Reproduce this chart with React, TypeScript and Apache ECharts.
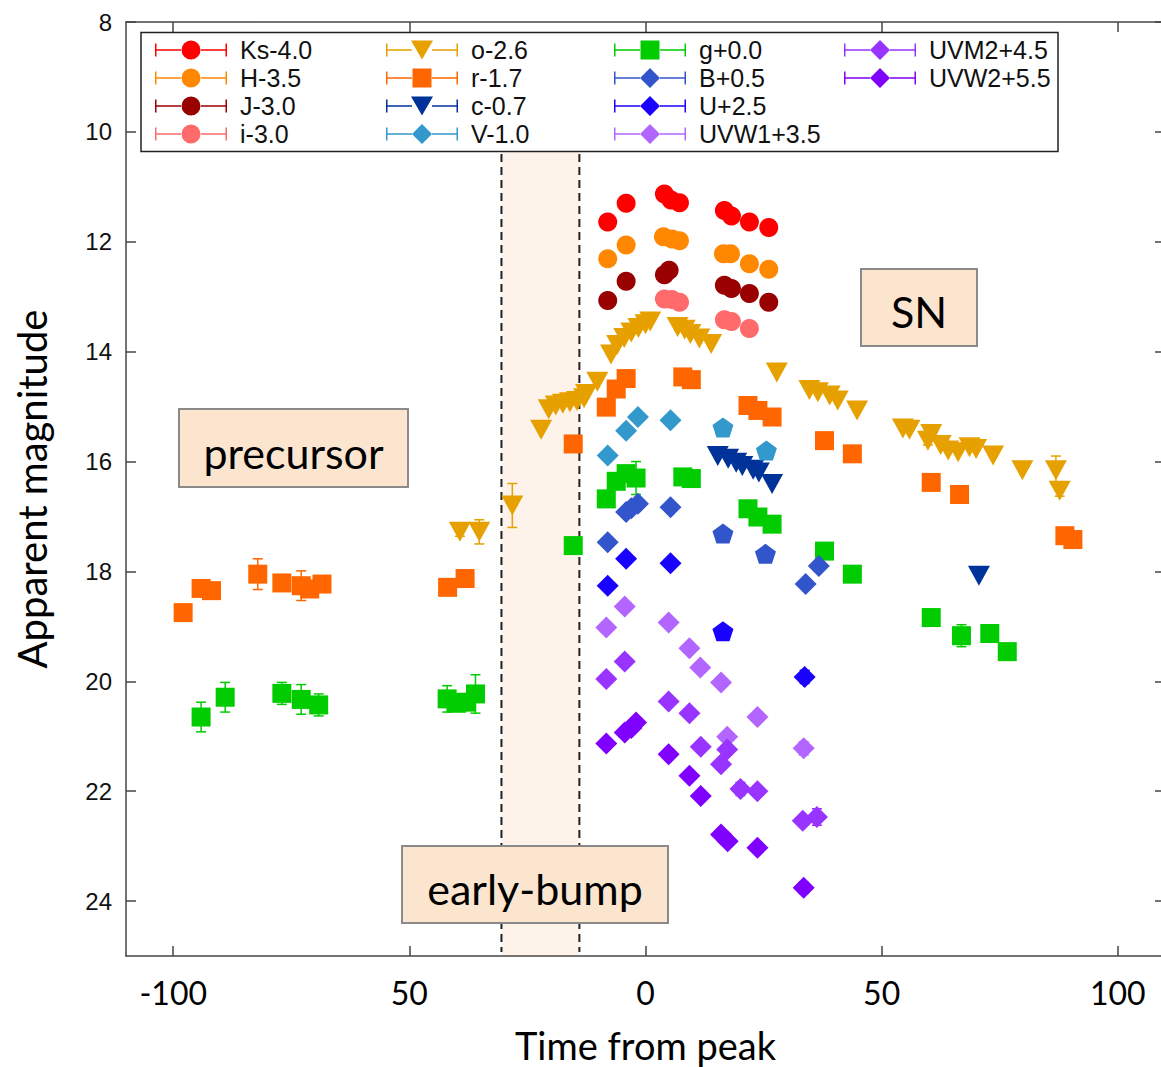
import React, { useEffect, useRef } from "react";
import * as echarts from "echarts";

// ---- axis ticks ----
const xTickValues = [-100, -50, 0, 50, 100];
const xTickLabels = ["-100", "50", "0", "50", "100"];
const yTickValues = [8, 10, 12, 14, 16, 18, 20, 22, 24];

// ---- early-bump window [start, end] (days from peak), magnitude span ----
const earlyBump = [-30.5, -14.0];
const earlyBumpMag = [10.35, 25];

// ---- photometry: [time from peak, apparent magnitude, error] ----
const ks = [[-8, 11.64], [-4.1, 11.3], [4, 11.13], [5.4, 11.24], [7.2, 11.29], [16.7, 11.43], [18.2, 11.53], [22, 11.64], [26.1, 11.74]];
const hBand = [[-8, 12.31], [-4.1, 12.06], [3.8, 11.91], [5.6, 11.95], [7.2, 11.98], [16.5, 12.22], [18, 12.22], [22, 12.4], [26.1, 12.5]];
const jBand = [[-8, 13.07], [-4.1, 12.72], [4, 12.6], [5, 12.52], [16.7, 12.79], [18.2, 12.85], [22, 12.94], [26.1, 13.1]];
const iBand = [[4, 13.04], [5.6, 13.05], [7.2, 13.1], [16.7, 13.42], [18.2, 13.45], [22, 13.58]];
const oBand = [[-39.3, 17.28, 0.08], [-35.2, 17.28, 0.22], [-28.2, 16.8, 0.4], [-22.1, 15.42], [-20.5, 15.05], [-19, 14.98], [-17.5, 14.95], [-16, 14.92], [-14.5, 14.9], [-13, 14.85], [-12.6, 14.77], [-10.2, 14.55], [-7.3, 14.05], [-6, 13.88], [-4.5, 13.75], [-3, 13.65], [-1.5, 13.57], [0, 13.5], [1, 13.45], [6.8, 13.55], [8.3, 13.6], [9.5, 13.68], [11.4, 13.76], [13.9, 13.86], [27.8, 14.38], [34.7, 14.7], [36.5, 14.74], [39, 14.8], [40.7, 14.89], [44.8, 15.07], [54.5, 15.4], [55.9, 15.42], [59.8, 15.62, 0.08], [60.5, 15.5], [62.5, 15.7], [64.1, 15.8], [66.2, 15.83], [68.6, 15.74], [70, 15.77], [73.6, 15.89], [79.8, 16.16], [86.9, 16.16, 0.26], [87.7, 16.53, 0.1]];
const rBand = [[-97.9, 18.75], [-94.1, 18.31], [-91.9, 18.35], [-82.1, 18.05, 0.28], [-77, 18.21], [-72.9, 18.26, 0.27], [-71.1, 18.32], [-68.5, 18.23], [-41.9, 18.29], [-38.2, 18.13], [-15.3, 15.68], [-8.3, 15.01], [-6.2, 14.68], [-4.1, 14.49], [7.9, 14.46], [9.7, 14.51], [21.7, 14.98], [23.8, 15.07], [26.8, 15.19], [37.9, 15.62], [43.8, 15.86], [60.5, 16.38], [66.5, 16.6], [88.8, 17.35], [90.5, 17.42]];
const cBand = [[15.3, 15.9], [17.5, 15.95], [19.2, 16.02], [20.5, 16.08], [22.8, 16.15], [24, 16.2], [26.8, 16.41], [70.6, 18.08]];
const vBand = [[-8, 15.89], [-4.1, 15.44], [-1.6, 15.19], [5.3, 15.25]];
const vBandUvot = [[16.4, 15.38], [25.6, 15.8]];
const gBand = [[-94.1, 20.65, 0.27], [-89, 20.29, 0.27], [-77, 20.22, 0.2], [-72.9, 20.33, 0.27], [-69.2, 20.43, 0.2], [-42, 20.32, 0.24], [-40, 20.4], [-38, 20.38], [-36, 20.23, 0.35], [-15.3, 17.53], [-8.3, 16.68], [-6.2, 16.36], [-4.1, 16.22], [-2, 16.3, 0.3], [7.9, 16.28], [9.7, 16.31], [21.7, 16.86], [23.8, 17.01], [26.8, 17.14], [37.9, 17.63], [43.8, 18.05], [60.5, 18.84], [66.9, 19.17, 0.2], [72.9, 19.13], [76.6, 19.46]];
const bBand = [[-8, 17.47], [-4.1, 16.92], [-3, 16.85], [-1.6, 16.77], [5.3, 16.83], [33.9, 18.23], [36.7, 17.9, 0.08]];
const bBandUvot = [[16.4, 17.31], [25.4, 17.68]];
const uBand = [[-8, 18.26], [-4.1, 17.77], [5.3, 17.85], [33.7, 19.92, 0.12]];
const uBandUvot = [[16.4, 19.09]];
const uvw1 = [[-8.3, 19.02], [-4.4, 18.64], [4.9, 18.93], [9.3, 19.4], [11.6, 19.75], [16, 20.02], [17.3, 21.01], [23.7, 20.65], [33.5, 21.22, 0.12]];
const uvm2 = [[-8.3, 19.96], [-4.4, 19.64], [4.9, 20.37], [9.3, 20.58], [11.7, 21.19], [16, 21.51], [17.3, 21.24], [20.1, 21.96, 0.12], [23.7, 22.0], [33.3, 22.54], [36.3, 22.47, 0.15]];
const uvw2 = [[-8.3, 21.13], [-4.4, 20.93], [-3, 20.85], [-2, 20.75], [4.9, 21.33], [9.3, 21.72], [11.7, 22.09], [16, 22.79], [17.4, 22.91], [23.7, 23.03], [33.5, 23.76, 0.1]];

type Shape = "circle" | "tri" | "square" | "diamond" | "pentagon";

const bands: { name: string; data: number[][]; color: string; shape: Shape }[] = [
  { name: "Ks-4.0", data: ks, color: "#ff0000", shape: "circle" },
  { name: "H-3.5", data: hBand, color: "#ff8800", shape: "circle" },
  { name: "J-3.0", data: jBand, color: "#990000", shape: "circle" },
  { name: "i-3.0", data: iBand, color: "#ff6b6b", shape: "circle" },
  { name: "o-2.6", data: oBand, color: "#e6a000", shape: "tri" },
  { name: "r-1.7", data: rBand, color: "#ff6600", shape: "square" },
  { name: "c-0.7", data: cBand, color: "#003399", shape: "tri" },
  { name: "V-1.0", data: vBand, color: "#3399cc", shape: "diamond" },
  { name: "V-1.0 uvot", data: vBandUvot, color: "#3399cc", shape: "pentagon" },
  { name: "g+0.0", data: gBand, color: "#00cc00", shape: "square" },
  { name: "B+0.5", data: bBand, color: "#3355cc", shape: "diamond" },
  { name: "B+0.5 uvot", data: bBandUvot, color: "#3355cc", shape: "pentagon" },
  { name: "U+2.5", data: uBand, color: "#1a00ff", shape: "diamond" },
  { name: "U+2.5 uvot", data: uBandUvot, color: "#1a00ff", shape: "pentagon" },
  { name: "UVW1+3.5", data: uvw1, color: "#b366ff", shape: "diamond" },
  { name: "UVM2+4.5", data: uvm2, color: "#9933ff", shape: "diamond" },
  { name: "UVW2+5.5", data: uvw2, color: "#7f00ff", shape: "diamond" },
];

const legendColumns = [
  { left: 155, names: ["Ks-4.0", "H-3.5", "J-3.0", "i-3.0"] },
  { left: 386, names: ["o-2.6", "r-1.7", "c-0.7", "V-1.0"] },
  { left: 614, names: ["g+0.0", "B+0.5", "U+2.5", "UVW1+3.5"] },
  { left: 844, names: ["UVM2+4.5", "UVW2+5.5"] },
];

const symbolFor = (s: Shape) => {
  switch (s) {
    case "circle":
      return { symbol: "circle", symbolSize: 19, symbolRotate: 0 };
    case "tri":
      return { symbol: "triangle", symbolSize: [22, 20], symbolRotate: 180 };
    case "square":
      return { symbol: "rect", symbolSize: 19, symbolRotate: 0 };
    case "diamond":
      return { symbol: "diamond", symbolSize: 22, symbolRotate: 0 };
    default:
      return {
        symbol: "path://M0,-1L0.951,-0.309L0.588,0.809L-0.588,0.809L-0.951,-0.309Z",
        symbolSize: [21, 20],
        symbolRotate: 0,
      };
  }
};

const legendLine = "M0 9.25H26V10.75H0Z M46 9.25H72V10.75H46Z M0 3.5H1.5V16.5H0Z M70.5 3.5H72V16.5H70.5Z ";
const legendMarker: Record<string, string> = {
  circle: "M26.5 10A9.5 9.5 0 1 1 45.5 10A9.5 9.5 0 1 1 26.5 10Z",
  tri: "M25 0.5H47L36 19.5Z",
  square: "M26.5 0.5H45.5V19.5H26.5Z",
  diamond: "M36 0L46 10L36 20L26 10Z",
};

export default function App() {
  const ref = useRef<HTMLDivElement>(null);

  useEffect(() => {
    document.body.style.margin = "0";
    if (!ref.current) return;
    const chart = echarts.init(ref.current, null, { renderer: "svg" });

    const shapeOf: Record<string, Shape> = {};
    bands.forEach((b) => (shapeOf[b.name] = b.shape));

    const series: any[] = [];

    // early-bump shaded window with dashed borders
    series.push({
      type: "custom",
      name: "early-bump window",
      z: 1,
      silent: true,
      data: [[earlyBump[0], earlyBumpMag[0], earlyBump[1], earlyBumpMag[1]]],
      encode: { x: [0, 2], y: [1, 3] },
      renderItem: (_p: any, api: any) => {
        const a = api.coord([api.value(0), api.value(1)]);
        const b = api.coord([api.value(2), api.value(3)]);
        const dash = { stroke: "#222", lineWidth: 2, lineDash: [8, 5] };
        return {
          type: "group",
          children: [
            { type: "rect", shape: { x: a[0], y: a[1], width: b[0] - a[0], height: b[1] - a[1] - 1 }, style: { fill: "#fdf3ea" } },
            { type: "line", shape: { x1: a[0], y1: a[1] + 3, x2: a[0], y2: b[1] - 4 }, style: dash },
            { type: "line", shape: { x1: b[0], y1: a[1] + 3, x2: b[0], y2: b[1] - 4 }, style: dash },
          ],
        };
      },
    });

    bands.forEach((b) => {
      const errs = b.data.filter((p) => (p[2] || 0) > 0).map((p) => [p[0], p[1], p[2]]);
      if (errs.length) {
        series.push({
          type: "custom",
          name: b.name + " err",
          z: 2,
          silent: true,
          data: errs,
          encode: { x: 0, y: 1 },
          renderItem: (_p: any, api: any) => {
            const x = api.value(0);
            const y = api.value(1);
            const e = api.value(2);
            const t = api.coord([x, y - e]);
            const d = api.coord([x, y + e]);
            const st = { stroke: b.color, lineWidth: 1.5 };
            return {
              type: "group",
              children: [
                { type: "line", shape: { x1: t[0], y1: t[1], x2: d[0], y2: d[1] }, style: st },
                { type: "line", shape: { x1: t[0] - 5, y1: t[1], x2: t[0] + 5, y2: t[1] }, style: st },
                { type: "line", shape: { x1: d[0] - 5, y1: d[1], x2: d[0] + 5, y2: d[1] }, style: st },
              ],
            };
          },
        });
      }
      series.push({
        type: "scatter",
        name: b.name,
        z: 3,
        data: b.data.map((p) => [p[0], p[1]]),
        ...symbolFor(b.shape),
        itemStyle: { color: b.color, opacity: 1 },
      });
    });

    const legends = legendColumns.map((col) => ({
      orient: "vertical",
      left: col.left,
      top: 37.5,
      padding: 0,
      itemWidth: 72,
      itemHeight: 20,
      itemGap: 3,
      z: 6,
      selectedMode: false,
      data: col.names.map((n) => ({
        name: n,
        icon: "path://" + legendLine + legendMarker[shapeOf[n]],
      })),
      textStyle: {
        fontFamily: "Liberation Sans",
        fontSize: 25,
        color: "#111",
        lineHeight: 20,
        padding: [0, 0, 0, 8],
      },
    }));

    const boxStyle = { fill: "#fbe5cf", stroke: "#8a8a8a", lineWidth: 2 };
    const boxText = (x: number, y: number, text: string) => ({
      type: "text",
      x,
      y,
      z: 20,
      style: {
        text,
        fill: "#000",
        font: "43px Lato",
        textAlign: "center",
        textVerticalAlign: "middle",
      },
    });

    const axisLine = { show: true, onZero: false, lineStyle: { color: "#444", width: 1.5 } };
    const axisTick = { show: true, inside: true, length: 10, lineStyle: { color: "#444", width: 1.5 } };

    chart.setOption({
      animation: false,
      textStyle: { fontFamily: "Lato" },
      grid: { left: 126, width: 1039, top: 22, bottom: 111, containLabel: false, outerBoundsMode: "none" },
      legend: legends,
      xAxis: [
        {
          type: "value",
          min: -110,
          max: 110,
          position: "bottom",
          axisLine,
          axisTick: { ...axisTick, customValues: xTickValues },
          splitLine: { show: false },
          axisLabel: {
            customValues: xTickValues,
            margin: 20,
            fontFamily: "Lato",
            fontSize: 32,
            color: "#000",
            formatter: (v: number) => {
              const i = xTickValues.indexOf(v);
              return i >= 0 ? xTickLabels[i] : "";
            },
          },
          name: "Time from peak",
          nameLocation: "middle",
          nameGap: 70,
          nameTextStyle: { fontFamily: "Lato", fontSize: 38, color: "#000" },
        },
        {
          type: "value",
          min: -110,
          max: 110,
          position: "top",
          axisLine,
          axisTick: { ...axisTick, customValues: xTickValues },
          splitLine: { show: false },
          axisLabel: { show: false },
        },
      ],
      yAxis: [
        {
          type: "value",
          min: 8,
          max: 25,
          inverse: true,
          position: "left",
          axisLine,
          axisTick: { ...axisTick, customValues: yTickValues },
          splitLine: { show: false },
          axisLabel: {
            customValues: yTickValues,
            margin: 14,
            fontFamily: "Liberation Sans",
            fontSize: 24,
            color: "#111",
          },
          name: "Apparent magnitude",
          nameLocation: "middle",
          nameGap: 74,
          nameTextStyle: { fontFamily: "Lato", fontSize: 40, color: "#000" },
        },
        {
          type: "value",
          min: 8,
          max: 25,
          inverse: true,
          position: "right",
          axisLine,
          axisTick: { ...axisTick, customValues: yTickValues },
          splitLine: { show: false },
          axisLabel: { show: false },
        },
      ],
      graphic: [
        {
          type: "rect",
          z: 5,
          shape: { x: 141, y: 32.5, width: 917, height: 119 },
          style: { fill: "#fff", stroke: "#222", lineWidth: 1.5 },
        },
        { type: "rect", z: 19, shape: { x: 179, y: 409, width: 229, height: 78 }, style: boxStyle },
        boxText(293.5, 452, "precursor"),
        { type: "rect", z: 19, shape: { x: 861, y: 269, width: 116, height: 77 }, style: boxStyle },
        boxText(919, 311, "SN"),
        { type: "rect", z: 19, shape: { x: 402, y: 846, width: 266, height: 77 }, style: boxStyle },
        boxText(535, 888, "early-bump"),
      ],
      series,
    });

    return () => chart.dispose();
  }, []);

  return <div ref={ref} style={{ width: 1161, height: 1067 }} />;
}
